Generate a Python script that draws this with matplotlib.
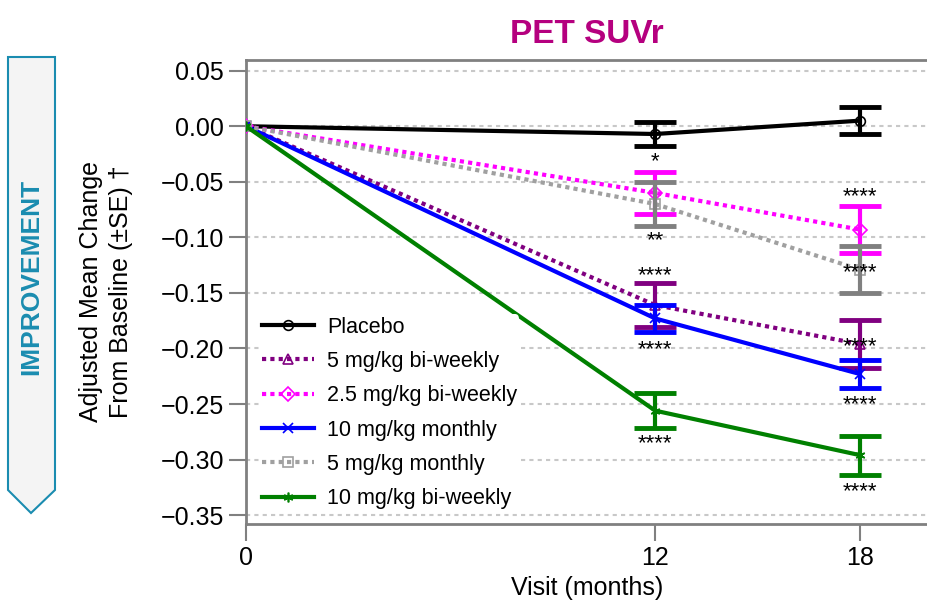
import matplotlib.pyplot as plt
from matplotlib.patches import Polygon

plt.rcParams['font.family'] = ['Liberation Sans', 'DejaVu Sans']

visits = [0, 12, 18]
groups = ['Placebo', '5 mg/kg bi-weekly', '2.5 mg/kg bi-weekly',
          '10 mg/kg monthly', '5 mg/kg monthly', '10 mg/kg bi-weekly']
placebo = [0.0, -0.007, 0.005]
bw5 = [0.0, -0.161, -0.196]
bw25 = [0.0, -0.060, -0.093]
m10 = [0.0, -0.173, -0.223]
m5 = [0.0, -0.070, -0.129]
bw10 = [0.0, -0.256, -0.296]
se_placebo = [0.0, 0.011, 0.012]
se_bw5 = [0.0, 0.020, 0.022]
se_bw25 = [0.0, 0.019, 0.021]
se_m10 = [0.0, 0.0125, 0.0125]
se_m5 = [0.0, 0.020, 0.021]
se_bw10 = [0.0, 0.0155, 0.0175]
sig_placebo = ['', '*', '']
sig_bw5 = ['', '****', '****']
sig_bw25 = ['', '', '****']
sig_m10 = ['', '****', '****']
sig_m5 = ['', '**', '****']
sig_bw10 = ['', '****', '****']

means = [placebo, bw5, bw25, m10, m5, bw10]
ses = [se_placebo, se_bw5, se_bw25, se_m10, se_m5, se_bw10]
sigs = [sig_placebo, sig_bw5, sig_bw25, sig_m10, sig_m5, sig_bw10]

# styles
colors = ['black', '#800080', '#ff00ff', '#0000ff', '#a0a0a0', '#008000']
ecolors = ['black', '#800080', '#ff00ff', '#0000ff', '#808080', '#008000']
styles = ['-', (0, (1, 1)), (0, (1, 1)), '-', (0, (1, 1)), '-']
markers = ['o', '^', 'D', 'x', 's', (6, 2, 0)]
# label offsets in pixels below (+) / above (-) the mean
sig_off = [[0, 22, 0], [0, -35, -3], [0, 0, -39], [0, 25, 25], [0, 31, -3], [0, 27, 31]]

fig = plt.figure(figsize=(9.28, 6), dpi=100)
ax = fig.add_axes([246 / 928, 76 / 600, 682 / 928, 464 / 600])

for i in range(len(groups)):
    ax.plot(visits, means[i], color=colors[i], linestyle=styles[i], linewidth=3,
            marker=markers[i], markersize=7, markerfacecolor='none',
            markeredgewidth=1.2, label=groups[i], zorder=3)
    ax.errorbar(visits[1:], means[i][1:], yerr=ses[i][1:], fmt='none',
                ecolor=ecolors[i], elinewidth=3, capsize=15, capthick=3.5, zorder=3)
for i in range(len(groups)):
    for j in range(1, len(visits)):
        if sigs[i][j]:
            ax.annotate(sigs[i][j], (visits[j], means[i][j]), xytext=(0, -sig_off[i][j] - 6),
                        textcoords='offset pixels', ha='center', va='center', fontsize=16, zorder=5)

ax.set_xlim(0, 20)
ax.set_ylim(-0.358, 0.0596)
ax.set_xticks(visits)
ax.set_yticks([0.05, 0.0, -0.05, -0.10, -0.15, -0.20, -0.25, -0.30, -0.35])
ax.set_yticklabels(['0.05', '0.00', '\u22120.05', '\u22120.10', '\u22120.15', '\u22120.20',
                    '\u22120.25', '\u22120.30', '\u22120.35'])
ax.tick_params(axis='both', labelsize=18, colors='#808080', labelcolor='black', width=1.5)
ax.tick_params(axis='y', length=12, pad=4)
ax.tick_params(axis='x', length=12)
ax.grid(axis='y', color='#c8c8c8', linestyle=(0, (2, 2)), linewidth=1.5)
ax.set_axisbelow(True)
for s in ['left', 'top', 'bottom']:
    ax.spines[s].set_color('#808080')
    ax.spines[s].set_linewidth(2)
ax.spines['right'].set_visible(False)

ax.set_xlabel('Visit (months)', fontsize=18, labelpad=5)
fig.text(106 / 928, 1 - 292 / 600, 'Adjusted Mean Change\nFrom Baseline (\u00b1SE) \u2020',
         rotation=90, ha='center', va='center', fontsize=18, multialignment='center',
         linespacing=1.35)
ax.set_title('PET SUVr', fontsize=24, fontweight='bold', color='#b5007f', pad=12)

leg = ax.legend(loc='upper left', bbox_to_anchor=(0.005, 0.475), fontsize=15.5,
                handlelength=2.4, labelspacing=0.62, frameon=True, framealpha=1,
                edgecolor='none', borderpad=0.1, handletextpad=0.6)
leg.set_zorder(4)

# improvement arrow on the left
pts = [(8, 57), (55, 57), (55, 490), (31, 513), (8, 490)]
arrow = Polygon([(x / 928, 1 - y / 600) for x, y in pts], closed=True,
                transform=fig.transFigure, facecolor='#f4f4f4', edgecolor='#1a8cb0', linewidth=1.5)
fig.patches.append(arrow)
fig.text(31 / 928, 1 - 277 / 600, 'IMPROVEMENT', rotation=90, ha='center', va='center',
         fontsize=19, fontweight='bold', color='#1a8cb0')

plt.savefig('out.png', dpi=100)
